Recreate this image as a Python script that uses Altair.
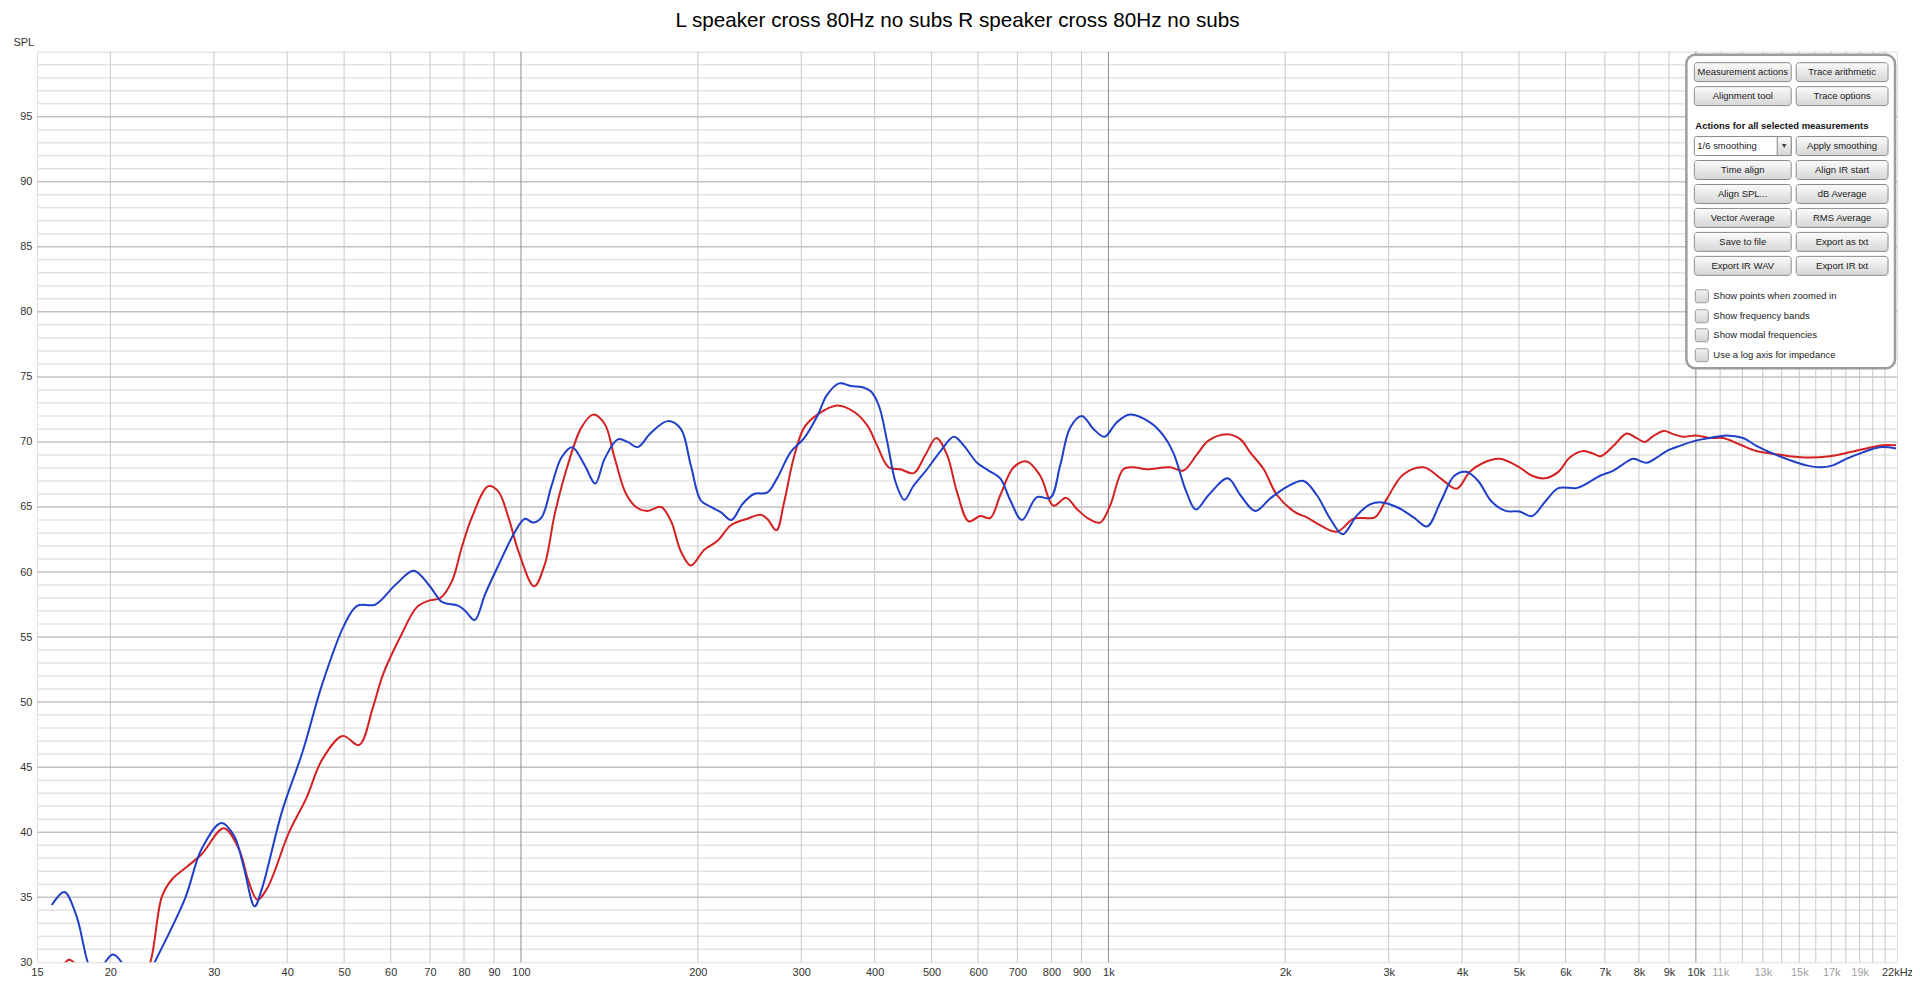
import altair as alt
import pandas as pd

TITLE = "L speaker cross 80Hz no subs R speaker cross 80Hz no subs"
SERIES = ["L speaker cross 80Hz no subs", "R speaker cross 80Hz no subs"]
COLORS = ["#d42020", "#1f3fc8"]

l_freq = [15.9, 16.5, 17.0, 17.6, 18.5, 20.0, 22.0, 23.4, 24.5, 25.5, 27.1, 28.6, 31.2, 33.1, 34.4, 35.6,
          37.0, 40.3, 43.1, 45.9, 49.7, 53.0, 55.9, 58.2, 62.3, 66.5, 69.7, 72.9, 76.3, 79.3, 82.5, 88.0,
          91.5, 95.2, 99.0, 105.3, 109.8, 114.2, 120.3, 126.7, 132.6, 138.8, 144.3, 151.0, 158.0, 164.3,
          173.2, 180.1, 187.1, 194.6, 205.0, 216.1, 227.7, 242.8, 255.8, 262.4, 272.2, 280.0, 291.4, 303.4,
          319.6, 345.5, 369.3, 388.9, 404.1, 422.4, 442.7, 466.2, 487.9, 509.5, 531.2, 552.8, 578.3, 605.1,
          629.2, 654.4, 689.9, 726.3, 765.5, 806.5, 847.2, 883.5, 924.7, 968, 1006.5, 1060, 1103, 1162,
          1273, 1341, 1413, 1480, 1593, 1678, 1743, 1838, 1937, 2078, 2176, 2292, 2450, 2613, 2717, 2842,
          2976, 3176, 3440, 3677, 3915, 4123, 4349, 4632, 5007, 5262, 5538, 5833, 6100, 6430, 6690, 6880,
          7240, 7625, 7925, 8190, 8460, 8824, 9150, 9517, 10000, 10563, 11126, 11880, 12678, 13535, 14449,
          15620, 16900, 18265, 19500, 20800, 21913]
l_spl = [27.5, 29.5, 30.2, 29.6, 27.0, 25.5, 27.0, 30.0, 35.1, 36.4, 37.4, 38.3, 40.3, 38.7, 36.2, 34.8,
         35.7, 40.0, 42.6, 45.6, 47.4, 46.7, 49.5, 52.1, 55.0, 57.3, 57.8, 58.0, 59.3, 61.9, 64.2, 66.6,
         66.2, 64.2, 61.6, 58.9, 60.6, 64.5, 68.3, 71.1, 72.1, 71.4, 68.8, 66.0, 64.9, 64.7,
         65.0, 63.9, 61.6, 60.5, 61.7, 62.4, 63.6, 64.1, 64.4, 64.1, 63.2, 65.2, 68.8, 71.1,
         72.1, 72.8, 72.3, 71.25, 69.7, 68.05, 67.9, 67.6, 69.0, 70.3, 69.0, 66.1, 63.9, 64.3,
         64.15, 65.9, 68.05, 68.5, 67.4, 65.1, 65.7, 64.85, 64.1, 63.8, 65.1, 67.9, 68.05, 67.9,
         68.05, 67.8, 69.0, 70.1, 70.6, 70.2, 69.2, 67.9, 65.9, 64.6, 64.2, 63.6, 63.1, 64.1, 64.15, 64.2,
         65.6, 67.5, 68.05, 67.2, 66.4, 67.7, 68.4, 68.7, 68.05, 67.4, 67.2, 67.7, 68.8, 69.3, 69.1, 68.9,
         69.7, 70.65, 70.3, 70.0, 70.45, 70.85, 70.6, 70.4, 70.5, 70.3, 70.3, 69.8, 69.3, 69.1, 68.9,
         68.8, 68.9, 69.2, 69.5, 69.75, 69.75]

r_freq = [15.9, 16.7, 17.5, 18.3, 18.9, 19.6, 20.2, 20.9, 22.0, 23.0, 23.8, 26.8, 28.6, 30.9, 32.5, 33.7,
          35.2, 36.2, 39.2, 42.5, 45.9, 50.0, 52.6, 56.5, 61.1, 65.7, 69.7, 72.9, 74.3, 78.3, 80.4, 83.4,
          86.9, 91.5, 97.7, 101.6, 104.9, 108.4, 112.7, 117.2, 122.2, 128.4, 133.8, 138.8, 146.2, 152.0,
          158.0, 166.5, 177.7, 187.1, 194.6, 202.4, 210.6, 218.8, 228.2, 238.0, 249.3, 262.4, 272.9, 287.6,
          303.4, 319.5, 331.7, 347.9, 364.5, 381.6, 394.0, 406.6, 420.3, 434.3, 449.5, 466.2, 491.2, 517.9,
          545.7, 567.8, 597.5, 625.1, 654.4, 680.9, 712.6, 755.6, 796.2, 827.8, 860.7, 901.0, 943.0, 984.5,
          1033, 1088, 1177, 1240, 1289, 1359, 1409, 1480, 1596, 1678, 1778, 1885, 2013, 2148, 2264, 2385,
          2504, 2648, 2788, 2918, 3096, 3308, 3487, 3677, 3880, 4066, 4260, 4493, 4744, 5007, 5262, 5538,
          5833, 6261, 6520, 6870, 7240, 7525, 7825, 8245, 8575, 8915, 9393, 10000, 10563, 11276, 12036,
          12678, 13535, 14449, 15424, 16248, 17116, 18030, 19247, 20546, 21913]
r_spl = [34.4, 35.4, 33.6, 30.0, 28.5, 30.0, 30.6, 30.0, 27.5, 28.6, 30.0, 34.9, 38.7, 40.7, 39.7, 37.4,
         34.3, 35.6, 41.6, 46.2, 51.4, 55.9, 57.4, 57.5, 59.0, 60.1, 59.0, 57.8, 57.6, 57.4, 57.0, 56.3,
         58.3, 60.5, 63.1, 64.1, 63.8, 64.2, 66.6, 68.8, 69.6, 68.2, 66.8, 68.7, 70.2, 70.0,
         69.6, 70.7, 71.6, 71.0, 68.2, 65.5, 65.0, 64.6, 64.0, 65.2, 66.0, 66.1, 67.2, 69.2,
         70.3, 72.0, 73.6, 74.5, 74.3, 74.2, 73.9, 72.8, 70.0, 66.9, 65.55, 66.65, 67.9, 69.3,
         70.4, 69.7, 68.4, 67.8, 67.2, 65.5, 64.0, 65.75, 65.7, 68.2, 71.1, 72.0, 71.0, 70.4,
         71.5, 72.1, 71.5, 70.5, 69.2, 66.1, 64.8, 65.9, 67.2, 65.9, 64.7, 65.65, 66.55, 67.0, 65.9, 64.1,
         62.9, 64.35, 65.2, 65.35, 65.0, 64.2, 63.5, 65.4, 67.4, 67.7, 67.0, 65.4, 64.7, 64.65, 64.3, 65.4,
         66.45, 66.45, 66.8, 67.4, 67.8, 68.3, 68.7, 68.4, 68.8, 69.3, 69.7, 70.1, 70.3, 70.5, 70.3,
         69.7, 69.1, 68.6, 68.2, 68.05, 68.2, 68.7, 69.2, 69.6, 69.5]

# ---- axis ticks / grid ----
x_tick_values = [15, 20, 30, 40, 50, 60, 70, 80, 90, 100, 200, 300, 400, 500, 600, 700, 800, 900,
                 1000, 2000, 3000, 4000, 5000, 6000, 7000, 8000, 9000, 10000, 11000, 13000, 15000,
                 17000, 19000, 22000]
x_grid_minor = [20, 30, 40, 50, 60, 70, 80, 90, 200, 300, 400, 500, 600, 700, 800, 900,
                2000, 3000, 4000, 5000, 6000, 7000, 8000, 9000, 11000, 12000, 13000, 14000,
                15000, 16000, 17000, 18000, 19000, 20000, 21000]
x_grid_decade = [100, 1000, 10000]
y_tick_values = [30, 35, 40, 45, 50, 55, 60, 65, 70, 75, 80, 85, 90, 95]
y_grid_major = [35, 40, 45, 50, 55, 60, 65, 70, 75, 80, 85, 90, 95]
y_grid_minor = [v for v in range(31, 100) if v % 5 != 0]

# ---- control panel text ----
btn_left = ["Measurement actions", "Alignment tool", None, "Time align", "Align SPL...",
            "Vector Average", "Save to file", "Export IR WAV"]
btn_right = ["Trace arithmetic", "Trace options", "Apply smoothing", "Align IR start", "dB Average",
             "RMS Average", "Export as txt", "Export IR txt"]
dropdown_label = "1/6 smoothing"
panel_heading = "Actions for all selected measurements"
checkbox_labels = ["Show points when zoomed in", "Show frequency bands", "Show modal frequencies",
                   "Use a log axis for impedance"]

FONT = "Liberation Sans"
W, H = 1863, 912
PX0, PY0 = 37, 51  # plot origin on the page (page margin 8 + padding)

xs = alt.Scale(type="log", domain=[15, 22000], nice=False)
ys = alt.Scale(domain=[30, 100], nice=False, zero=False)

curves = pd.DataFrame(
    [dict(freq=f, spl=s, series=SERIES[0], order=i) for i, (f, s) in enumerate(zip(l_freq, l_spl))]
    + [dict(freq=f, spl=s, series=SERIES[1], order=i) for i, (f, s) in enumerate(zip(r_freq, r_spl))]
)

label_color = {"condition": {"test": "datum.value > 10500 && datum.value < 20000", "value": "#a0a0a0"},
               "value": "#333333"}
x_axis = alt.Axis(values=x_tick_values, grid=False, ticks=False, domain=False, labelOverlap=False,
                  labelFlush=False, labelFont=FONT, labelFontSize=11, labelColor=label_color,
                  labelPadding=13, labelBaseline="alphabetic", title=None,
                  labelExpr="datum.value > 21000 ? '22kHz' : (datum.value >= 1000 ? format(datum.value/1000, 'd') + 'k' : format(datum.value, 'd'))")
y_axis = alt.Axis(values=y_tick_values, grid=False, ticks=False, domain=False, labelFont=FONT,
                  labelFontSize=11, labelColor="#333333", labelPadding=5,
                  title="SPL", titleAngle=0, titleX=-24, titleY=-9, titleAlign="left",
                  titleBaseline="middle", titleFont=FONT, titleFontSize=11, titleFontWeight="normal",
                  titleColor="#333333")

def yrule(vals, color, width):
    return alt.Chart(pd.DataFrame({"v": vals})).mark_rule(color=color, strokeWidth=width).encode(
        y=alt.Y("v:Q", scale=ys, axis=y_axis))

def xrule(vals, color, width):
    return alt.Chart(pd.DataFrame({"v": vals})).mark_rule(color=color, strokeWidth=width).encode(
        x=alt.X("v:Q", scale=xs, axis=x_axis))

grid = [
    yrule(y_grid_minor, "#e4e4e4", 1.5),
    yrule(y_grid_major, "#c2c2c2", 1.5),
    xrule(x_grid_minor, "#c8c8c8", 1),
    xrule(x_grid_decade, "#8e8e8e", 1),
]

lines = alt.Chart(curves).mark_line(strokeWidth=2, clip=True, interpolate="catmull-rom").encode(
    x=alt.X("freq:Q", scale=xs, axis=x_axis),
    y=alt.Y("spl:Q", scale=ys, axis=y_axis),
    color=alt.Color("series:N", scale=alt.Scale(domain=SERIES, range=COLORS), legend=None),
    order="order:Q",
)

# ---- screen-space overlays (title and control panel) ----
def P(x, y):
    return x - PX0, y - PY0

def sx(f):
    return alt.X(f, scale=None)

def sy(f):
    return alt.Y(f, scale=None)

tx, ty = P(959, 26)
title_df = pd.DataFrame([dict(label=TITLE, x=tx, y=ty)])
title = alt.Chart(title_df).mark_text(font=FONT, fontSize=20.7, color="#000000", align="center",
                                      baseline="alphabetic").encode(x=sx("x:Q"), y=sy("y:Q"), text="label:N")

rows_top = [62, 86, 136, 160, 184, 208, 232, 256]
cols = [(1697, 1794), (1799, 1891)]
btn_rows = []
for i, pair in enumerate(zip(btn_left, btn_right)):
    for (cx1, cx2), lab in zip(cols, pair):
        if lab is None:
            continue
        x1, y1 = P(cx1, rows_top[i])
        x2, y2 = P(cx2, rows_top[i] + 19)
        btn_rows.append(dict(label=lab, x1=x1, x2=x2, y1=y1, y2=y2, cx=(x1 + x2) / 2, cy=(y1 + y2) / 2))
btn_df = pd.DataFrame(btn_rows)

px1, py1 = P(1689, 54)
px2, py2 = P(1898, 368)
panel_df = pd.DataFrame([dict(x1=px1, x2=px2, y1=py1, y2=py2)])
panel = alt.Chart(panel_df).mark_rect(fill="#ffffff", stroke="#9c9c9c", strokeWidth=2.5, cornerRadius=9).encode(
    x=sx("x1:Q"), x2="x2:Q", y=sy("y1:Q"), y2="y2:Q")

grad = alt.Gradient(gradient="linear", x1=0, x2=0, y1=0, y2=1,
                    stops=[alt.GradientStop(color="#fbfbfb", offset=0),
                           alt.GradientStop(color="#d6d6d6", offset=1)])

buttons = alt.Chart(btn_df).mark_rect(fill=grad, stroke="#8a8a8a", strokeWidth=1, cornerRadius=3).encode(
    x=sx("x1:Q"), x2="x2:Q", y=sy("y1:Q"), y2="y2:Q")
button_text = alt.Chart(btn_df).mark_text(font=FONT, fontSize=9.5, color="#1a1a1a", align="center",
                                          baseline="middle").encode(
    x=sx("cx:Q"), y=sy("cy:Q"), text="label:N")

dx1, dy1 = P(1697, 136)
dx2, dy2 = P(1794, 155)
ax1, _ = P(1780, 136)
dd_df = pd.DataFrame([dict(label=dropdown_label, x1=dx1, x2=dx2, y1=dy1, y2=dy2, ax1=ax1,
                           tx=dx1 + 3, cy=(dy1 + dy2) / 2, acx=(ax1 + dx2) / 2)])
dropdown = alt.Chart(dd_df).mark_rect(fill="#ffffff", stroke="#8a8a8a", strokeWidth=1, cornerRadius=2).encode(
    x=sx("x1:Q"), x2="x2:Q", y=sy("y1:Q"), y2="y2:Q")
dd_arrow_box = alt.Chart(dd_df).mark_rect(fill=grad, stroke="#8a8a8a", strokeWidth=1).encode(
    x=sx("ax1:Q"), x2="x2:Q", y=sy("y1:Q"), y2="y2:Q")
dd_arrow = alt.Chart(dd_df).mark_point(shape="triangle-down", filled=True, color="#444444", size=22,
                                       opacity=1).encode(x=sx("acx:Q"), y=sy("cy:Q"))
dd_text = alt.Chart(dd_df).mark_text(font=FONT, fontSize=9.5, color="#1a1a1a", align="left",
                                     baseline="middle").encode(x=sx("tx:Q"), y=sy("cy:Q"), text="label:N")

hx, hy = P(1698, 125)
head_df = pd.DataFrame([dict(label=panel_heading, x=hx, y=hy)])
heading = alt.Chart(head_df).mark_text(font=FONT, fontSize=9.5, fontWeight="bold", color="#111111",
                                       align="left", baseline="middle").encode(
    x=sx("x:Q"), y=sy("y:Q"), text="label:N")

cb_centers = [296, 316, 335, 355]
cb_rows = []
for lab, c in zip(checkbox_labels, cb_centers):
    bx1, by1 = P(1698, c - 6.5)
    bx2, by2 = P(1711, c + 6.5)
    cb_rows.append(dict(label=lab, x1=bx1, x2=bx2, y1=by1, y2=by2, tx=bx2 + 5, cy=(by1 + by2) / 2))
cb_df = pd.DataFrame(cb_rows)
cb_grad = alt.Gradient(gradient="linear", x1=0, x2=0, y1=0, y2=1,
                       stops=[alt.GradientStop(color="#f2f2f2", offset=0),
                              alt.GradientStop(color="#d2d2d2", offset=1)])
cboxes = alt.Chart(cb_df).mark_rect(fill=cb_grad, stroke="#9a9a9a", strokeWidth=1, cornerRadius=2).encode(
    x=sx("x1:Q"), x2="x2:Q", y=sy("y1:Q"), y2="y2:Q")
cb_text = alt.Chart(cb_df).mark_text(font=FONT, fontSize=9.5, color="#1a1a1a", align="left",
                                     baseline="middle").encode(x=sx("tx:Q"), y=sy("cy:Q"), text="label:N")

chart = alt.layer(
    *grid, lines, title, panel, buttons, button_text, dropdown, dd_arrow_box, dd_arrow, dd_text, heading,
    cboxes, cb_text
).properties(
    width=W, height=H,
    autosize=alt.AutoSizeParams(type="none"),
    padding={"left": 29, "top": 43, "right": 15, "bottom": 14},
).configure_view(stroke="#a4a4a4", strokeWidth=3).configure(background="#ffffff")

chart.save("out.html", embed_options={"renderer": "svg", "actions": False})
